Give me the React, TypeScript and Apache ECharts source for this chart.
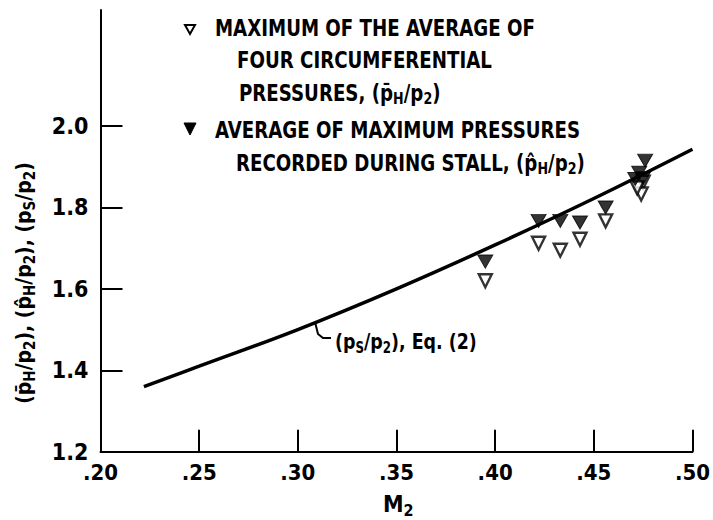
import React, { useEffect, useRef } from "react";
import * as echarts from "echarts";

// Axis ticks
const xTicks = [0.2, 0.25, 0.3, 0.35, 0.4, 0.45, 0.5];
const yTicks = [1.2, 1.4, 1.6, 1.8, 2.0];

// (pS/p2), Eq. (2) curve
const eqMach = [0.222, 0.25, 0.3, 0.35, 0.4, 0.45, 0.5];
const eqRatio = [1.36, 1.41, 1.5, 1.6, 1.708, 1.822, 1.943];

// Filled: average of maximum pressures recorded during stall
const avgMaxMach = [0.395, 0.422, 0.433, 0.443, 0.456, 0.476, 0.473, 0.471, 0.475];
const avgMaxRatio = [1.667, 1.767, 1.767, 1.763, 1.8, 1.915, 1.885, 1.87, 1.872];

// Open: maximum of the average of four circumferential pressures
const maxAvgMach = [0.395, 0.422, 0.433, 0.443, 0.456, 0.475, 0.474, 0.472];
const maxAvgRatio = [1.62, 1.712, 1.695, 1.722, 1.767, 1.862, 1.833, 1.848];

const FONT = "'Liberation Sans Narrow', 'DejaVu Sans Condensed', sans-serif";

const rich = (main: number, sub: number, drop: number) => ({
  m: { fontSize: main, fontFamily: FONT, fontWeight: "bold" as const, color: "#000" },
  s: {
    fontSize: sub,
    fontFamily: FONT,
    fontWeight: "bold" as const,
    color: "#000",
    padding: [drop, 0, 0, 0],
  },
});

export default function App() {
  const ref = useRef<HTMLDivElement>(null);

  useEffect(() => {
    if (!ref.current) return;
    const chart = echarts.init(ref.current, null, { renderer: "svg" });

    const legendText = (x: number, y: number, text: string) => ({
      type: "text",
      x,
      y,
      scaleX: 0.88,
      style: {
        text,
        align: "left",
        verticalAlign: "middle",
        rich: rich(23, 16, 12),
      },
    });

    chart.setOption({
      animation: false,
      backgroundColor: "#fff",
      grid: { left: 100.5, right: 17.4, top: 10, bottom: 68.3 },
      xAxis: {
        type: "value",
        min: 0.2,
        max: 0.5,
        interval: 0.05,
        splitLine: { show: false },
        axisLine: { lineStyle: { color: "#000", width: 2 } },
        axisTick: { inside: true, length: 22, lineStyle: { color: "#000", width: 2 } },
        axisLabel: {
          margin: 10,
          color: "#000",
          fontFamily: FONT,
          fontWeight: "bold",
          fontSize: 22,
          formatter: (v: number) => "." + String(Math.round(v * 100)).padStart(2, "0"),
        },
      },
      yAxis: {
        type: "value",
        min: 1.2,
        max: 2.285,
        interval: 0.2,
        splitLine: { show: false },
        axisLine: { show: true, lineStyle: { color: "#000", width: 2 } },
        axisTick: {
          inside: true,
          length: 22,
          customValues: yTicks,
          lineStyle: { color: "#000", width: 2 },
        },
        axisLabel: {
          margin: 12,
          color: "#000",
          fontFamily: FONT,
          fontWeight: "bold",
          fontSize: 23,
          customValues: yTicks,
          formatter: (v: number) => v.toFixed(1),
        },
      },
      series: [
        {
          type: "line",
          data: eqMach.map((x, i) => [x, eqRatio[i]]),
          smooth: 0.4,
          showSymbol: false,
          lineStyle: { color: "#000", width: 3.5 },
          z: 2,
        },
        {
          type: "scatter",
          data: maxAvgMach.map((x, i) => [x, maxAvgRatio[i]]),
          symbol: "triangle",
          symbolRotate: 180,
          symbolSize: [13, 13],
          itemStyle: { color: "#fff", borderColor: "#000", borderWidth: 2.4 },
          z: 3,
        },
        {
          type: "scatter",
          data: avgMaxMach.map((x, i) => [x, avgMaxRatio[i]]),
          symbol: "triangle",
          symbolRotate: 180,
          symbolSize: [15, 13],
          itemStyle: { color: "#000", borderColor: "#000", borderWidth: 1 },
          z: 4,
        },
      ],
      graphic: [
        {
          type: "polygon",
          shape: { points: [[185, 25], [195, 25], [190, 34]] },
          style: { fill: "#fff", stroke: "#000", lineWidth: 2 },
        },
        {
          type: "polygon",
          shape: { points: [[184, 123], [196, 123], [190, 135]] },
          style: { fill: "#000", stroke: "#000", lineWidth: 1 },
        },
        legendText(215, 28, "{m|MAXIMUM OF THE AVERAGE OF}"),
        legendText(237, 60, "{m|FOUR CIRCUMFERENTIAL}"),
        legendText(239, 93, "{m|PRESSURES, (p\u0304}{s|H}{m|/p}{s|2}{m|)}"),
        legendText(215, 130, "{m|AVERAGE OF MAXIMUM PRESSURES}"),
        legendText(236, 163, "{m|RECORDED DURING STALL, (p\u0302}{s|H}{m|/p}{s|2}{m|)}"),
        {
          type: "polyline",
          shape: { points: [[315, 322], [318, 334], [323, 338], [331, 338]] },
          style: { fill: "none", stroke: "#000", lineWidth: 2 },
        },
        {
          type: "text",
          x: 335,
          y: 342,
          scaleX: 0.88,
          style: {
            text: "{m|(p}{s|S}{m|/p}{s|2}{m|), Eq. (2)}",
            align: "left",
            verticalAlign: "middle",
            rich: rich(22, 15, 11),
          },
        },
        {
          type: "text",
          x: 383,
          y: 504,
          style: {
            text: "{m|M}{s|2}",
            align: "left",
            verticalAlign: "middle",
            rich: rich(23, 16, 12),
          },
        },
        {
          type: "text",
          x: 24,
          y: 283,
          rotation: Math.PI / 2,
          style: {
            text: "{m|(p\u0304}{s|H}{m|/p}{s|2}{m|), (p\u0302}{s|H}{m|/p}{s|2}{m|), (p}{s|S}{m|/p}{s|2}{m|)}",
            align: "center",
            verticalAlign: "middle",
            rich: rich(21, 15, 11),
          },
        },
      ],
    });

    return () => chart.dispose();
  }, []);

  return (
    <div
      ref={ref}
      style={{ position: "absolute", left: 0, top: 0, width: 713, height: 520, background: "#fff" }}
    />
  );
}
